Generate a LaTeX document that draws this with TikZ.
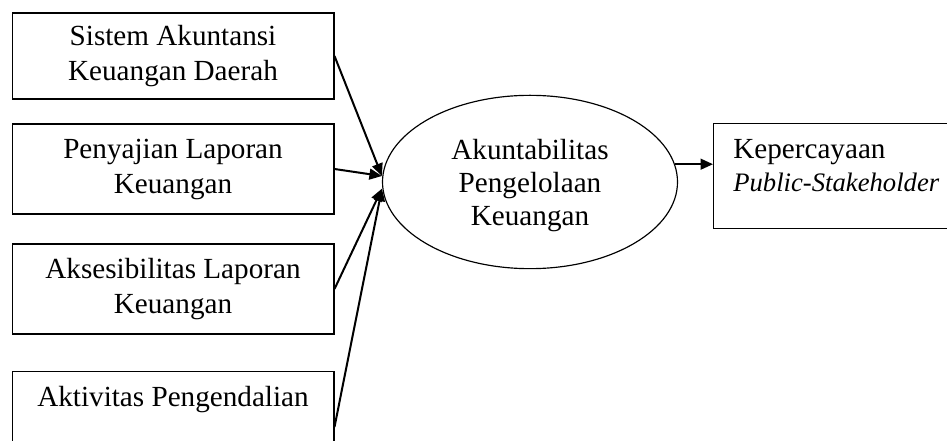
\documentclass[tikz,border=0pt]{standalone}
\usepackage{fontspec}
\setmainfont{Liberation Serif}
\usetikzlibrary{arrows.meta,shapes.geometric}
\begin{document}
\begin{tikzpicture}[
    x=0.6pt, y=-0.6pt,
    every node/.style={font=\fontsize{17.5}{21}\selectfont},
    varbox/.style={rectangle, draw=black, line width=0.8pt, minimum width=193pt, inner sep=0pt, align=center},
    mainvar/.style={ellipse, draw=black, line width=0.7pt, minimum width=177pt, minimum height=104pt, inner sep=0pt, align=center},
    outbox/.style={rectangle, draw=black, line width=0.8pt, minimum width=180pt, minimum height=63pt, anchor=north west, inner sep=0pt},
    lbl/.style={inner sep=0pt, align=left, font=\fontsize{17.5}{19.8}\selectfont},
    link/.style={line width=1.2pt, -{Triangle[length=7.5pt,width=6.5pt]}}
]
    \useasboundingbox (0,0) rectangle (947,441);
    \clip (0,0) rectangle (947,441);

    \node[varbox, minimum height=51.6pt] (sakd) at (173,56) {Sistem Akuntansi\\Keuangan Daerah};
    \node[varbox, minimum height=54pt] (lapor) at (173,169) {Penyajian Laporan\\Keuangan};
    \node[varbox, minimum height=54pt] (akses) at (173,289) {Aksesibilitas Laporan\\Keuangan};
    \node[varbox, minimum height=67pt] (aktiv) at (173,427) {};
    \node[lbl, anchor=base] (aktivlbl) at (173,406) {Aktivitas Pengendalian};

    \node[mainvar] (akun) at (530,182) {};
    \node[lbl, align=center] (akunlbl) at (530,186) {Akuntabilitas\\Pengelolaan\\Keuangan};
    \node[outbox] (trust) at (713,123) {};
    \node[lbl, anchor=north west] (trustlbl) at (733,139) {Kepercayaan\\{\fontsize{16}{19.8}\selectfont\itshape Public-Stakeholder}};

    \coordinate (inUp) at ([yshift=3.6pt]akun.west);
    \coordinate (inDown) at ([yshift=-4pt]akun.west);

    \draw[link] (sakd.east) -- (inUp);
    \draw[link] (lapor.east) -- (inUp);
    \draw[link] (akses.east) -- (inDown);
    \draw[link] (aktiv.east) -- (inDown);
    \draw[link] (akun.7) -- (akun.7 -| trust.west);
\end{tikzpicture}
\end{document}
